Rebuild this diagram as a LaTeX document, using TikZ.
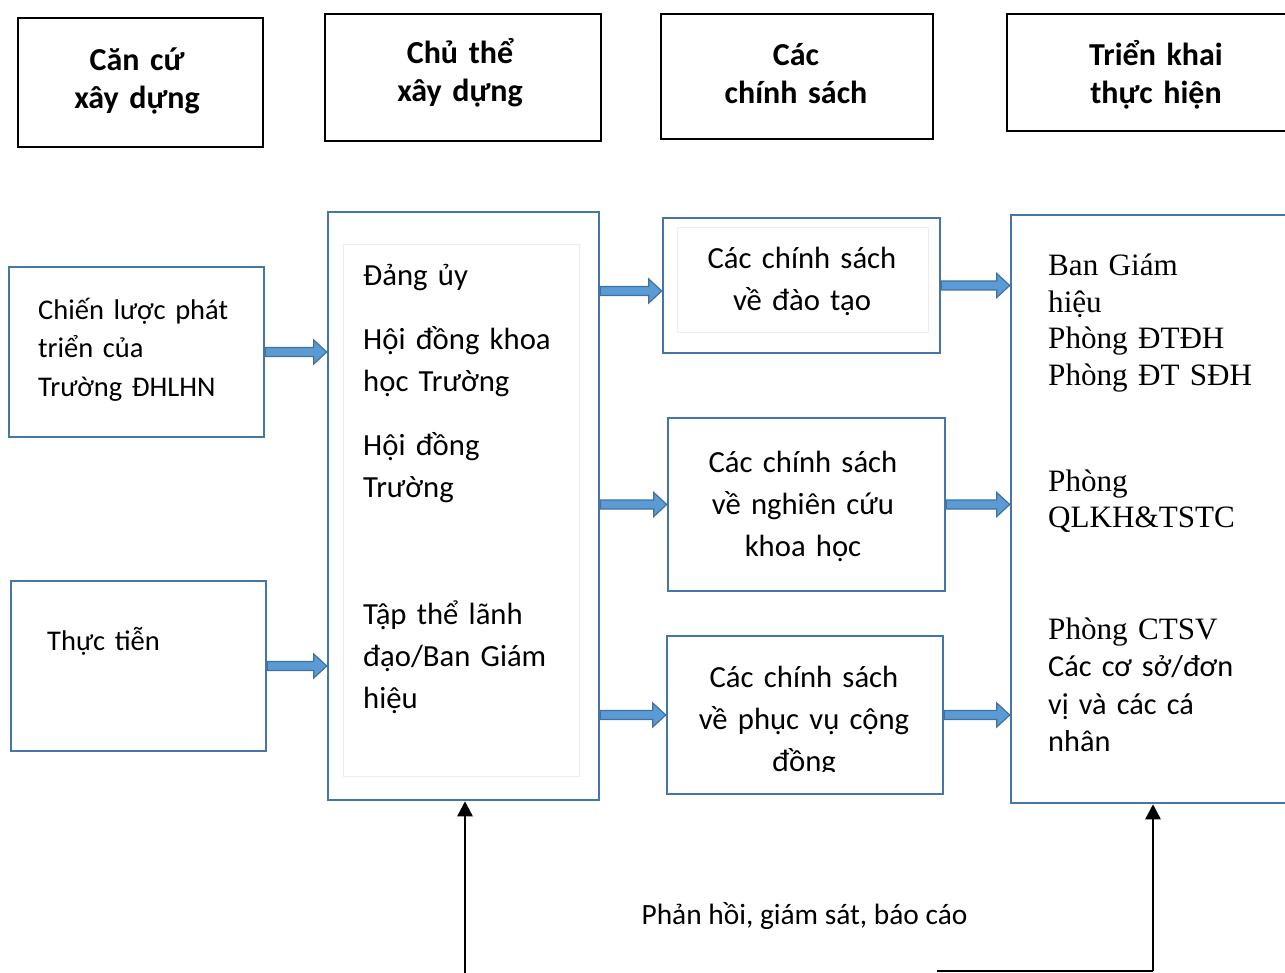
\documentclass[tikz,border=0pt]{standalone}
\usepackage{fontspec}
\setmainfont{Carlito}
\newfontfamily\tnr{Liberation Serif}
\usetikzlibrary{arrows.meta,calc}
\definecolor{bxblue}{RGB}{70,118,165}
\definecolor{arfill}{RGB}{91,155,213}
\definecolor{ardraw}{RGB}{65,113,156}
\definecolor{innergray}{RGB}{236,236,236}
\begin{document}
\begin{tikzpicture}[x=1pt,y=-1pt,
  hbox/.style={draw=black, line width=2, inner sep=0, rectangle},
  bbox/.style={draw=bxblue, line width=2.5, inner sep=0, rectangle},
  ibox/.style={draw=innergray, line width=1, inner sep=0, rectangle},
  htext/.style={font=\fontsize{32}{38}\selectfont\bfseries, align=center, text width=300, anchor=base, inner sep=0},
  ctext/.style={font=\fontsize{30.7}{42}\selectfont, align=center, text width=270, anchor=base, inner sep=0},
  ltext/.style={font=\fontsize{30.7}{42}\selectfont, align=left, text width=260, anchor=base west, inner sep=0},
  ttext/.style={font=\fontsize{31.1}{36.7}\selectfont\tnr, align=left, text width=260, anchor=base west, inner sep=0},
  blockarrow/.style={fill=arfill, draw=ardraw, line width=1.2,
    to path={let \p1=(\tikztostart), \p2=(\tikztotarget) in
      (\x1,\y1+4.5pt) -- (\x2-13pt,\y1+4.5pt) -- (\x2-13pt,\y1+12pt) -- (\x2,\y1)
      -- (\x2-13pt,\y1-12pt) -- (\x2-13pt,\y1-4.5pt) -- (\x1,\y1-4.5pt) -- cycle}},
  fbarrow/.style={draw=black, line width=2.5, -{Triangle[length=15pt,width=15pt]}}
]
\useasboundingbox (0,0) rectangle (1285,973);
\clip (0,0) rectangle (1285,973);

% header boxes
\node[hbox, minimum width=245, minimum height=129] (h1) at (140.5,82.5) {};
\node[hbox, minimum width=276, minimum height=127] (h2) at (463,77.5) {};
\node[hbox, minimum width=272, minimum height=125] (h3) at (797,76.5) {};
\node[hbox, minimum width=298, minimum height=117] (h4) at (1156,72.5) {};
\node[htext] (h1t) at (137,71) {Căn cứ\\xây dựng};
\node[htext] (h2t) at (460,64) {Chủ thể\\xây dựng};
\node[htext] (h3t) at (796,66) {Các\\chính sách};
\node[htext] (h4t) at (1156,66) {Triển khai\\thực hiện};

% left boxes
\node[bbox, minimum width=255, minimum height=170] (A) at (136.5,352) {};
\node[bbox, minimum width=255, minimum height=170] (B) at (138.5,666) {};
\node[ltext, font=\fontsize{28.5}{38.5}\selectfont] (At) at (38,319.5) {Chiến lược phát\\triển của\\Trường ĐHLHN};
\node[ltext, font=\fontsize{28.5}{38.5}\selectfont] (Bt) at (47,650.5) {Thực tiễn};

% middle box
\node[bbox, minimum width=271, minimum height=588] (M) at (463.5,506) {};
\node[ibox, minimum width=236, minimum height=531] (Mi) at (461,510.5) {};
\node[ltext] (M1) at (363,285.5) {Đảng ủy};
\node[ltext] (M2) at (363,349.5) {Hội đồng khoa\\học Trường};
\node[ltext] (M3) at (363,455.5) {Hội đồng\\Trường};
\node[ltext] (M4) at (363,624.5) {Tập thể lãnh\\đạo/Ban Giám\\hiệu};

% policy boxes
\node[bbox, minimum width=277, minimum height=135] (P1) at (801.5,285.5) {};
\node[ibox, minimum width=251, minimum height=105] (P1i) at (802.5,280.5) {};
\node[ctext] (P1t) at (802,268.5) {Các chính sách\\về đào tạo};
\node[bbox, minimum width=277, minimum height=173] (P2) at (806.5,504.5) {};
\node[ctext] (P2t) at (803,472.5) {Các chính sách\\về nghiên cứu\\khoa học};
\node[bbox, minimum width=276, minimum height=158] (P3) at (805,715) {};
\begin{scope}
  \clip (P3.north west) rectangle ($(P3.south east)+(0,-24)$);
  \node[ctext] (P3t) at (804,687.5) {Các chính sách\\về phục vụ cộng\\đồng};
\end{scope}

% right box
\node[bbox, minimum width=284, minimum height=588] (R) at (1153,509) {};
\node[ttext] (R1) at (1048,275.5) {Ban Giám\\hiệu\\Phòng ĐTĐH\\Phòng ĐT SĐH};
\node[ttext, font=\fontsize{31.1}{36}\selectfont\tnr] (R2) at (1048,491.5) {Phòng\\QLKH\&TSTC};
\node[ttext] (R3) at (1048,639.5) {Phòng CTSV};
\node[ltext, font=\fontsize{30.3}{37.5}\selectfont] (R4) at (1048,676.5) {Các cơ sở/đơn\\vị và các cá\\nhân};

% block arrows
\coordinate (P1in) at ($(P1.west)+(0,5.5)$);
\draw[blockarrow] (A.east) to (A.east -| M.west);
\draw[blockarrow] (B.east) to (B.east -| M.west);
\draw[blockarrow] (M.east |- P1in) to (P1in);
\draw[blockarrow] (M.east |- P2.west) to (P2.west);
\draw[blockarrow] (M.east |- P3.west) to (P3.west);
\draw[blockarrow] (P1.east) to (P1.east -| R.west);
\draw[blockarrow] (P2.east) to (P2.east -| R.west);
\draw[blockarrow] (P3.east) to (P3.east -| R.west);

% feedback
\node[font=\fontsize{29.4}{35}\selectfont, anchor=base, inner sep=0] (fb) at (804.5,924.5) {Phản hồi, giám sát, báo cáo};
\coordinate (fbL) at (465,975);
\coordinate (fbR) at (1153,971);
\coordinate (fbS) at (937,971);
\draw[fbarrow] (fbL) -- (fbL |- M.south);
\draw[fbarrow] (fbR) -- (R.south);
\draw[line width=2.5] (fbS) -- (fbR);
\end{tikzpicture}
\end{document}
